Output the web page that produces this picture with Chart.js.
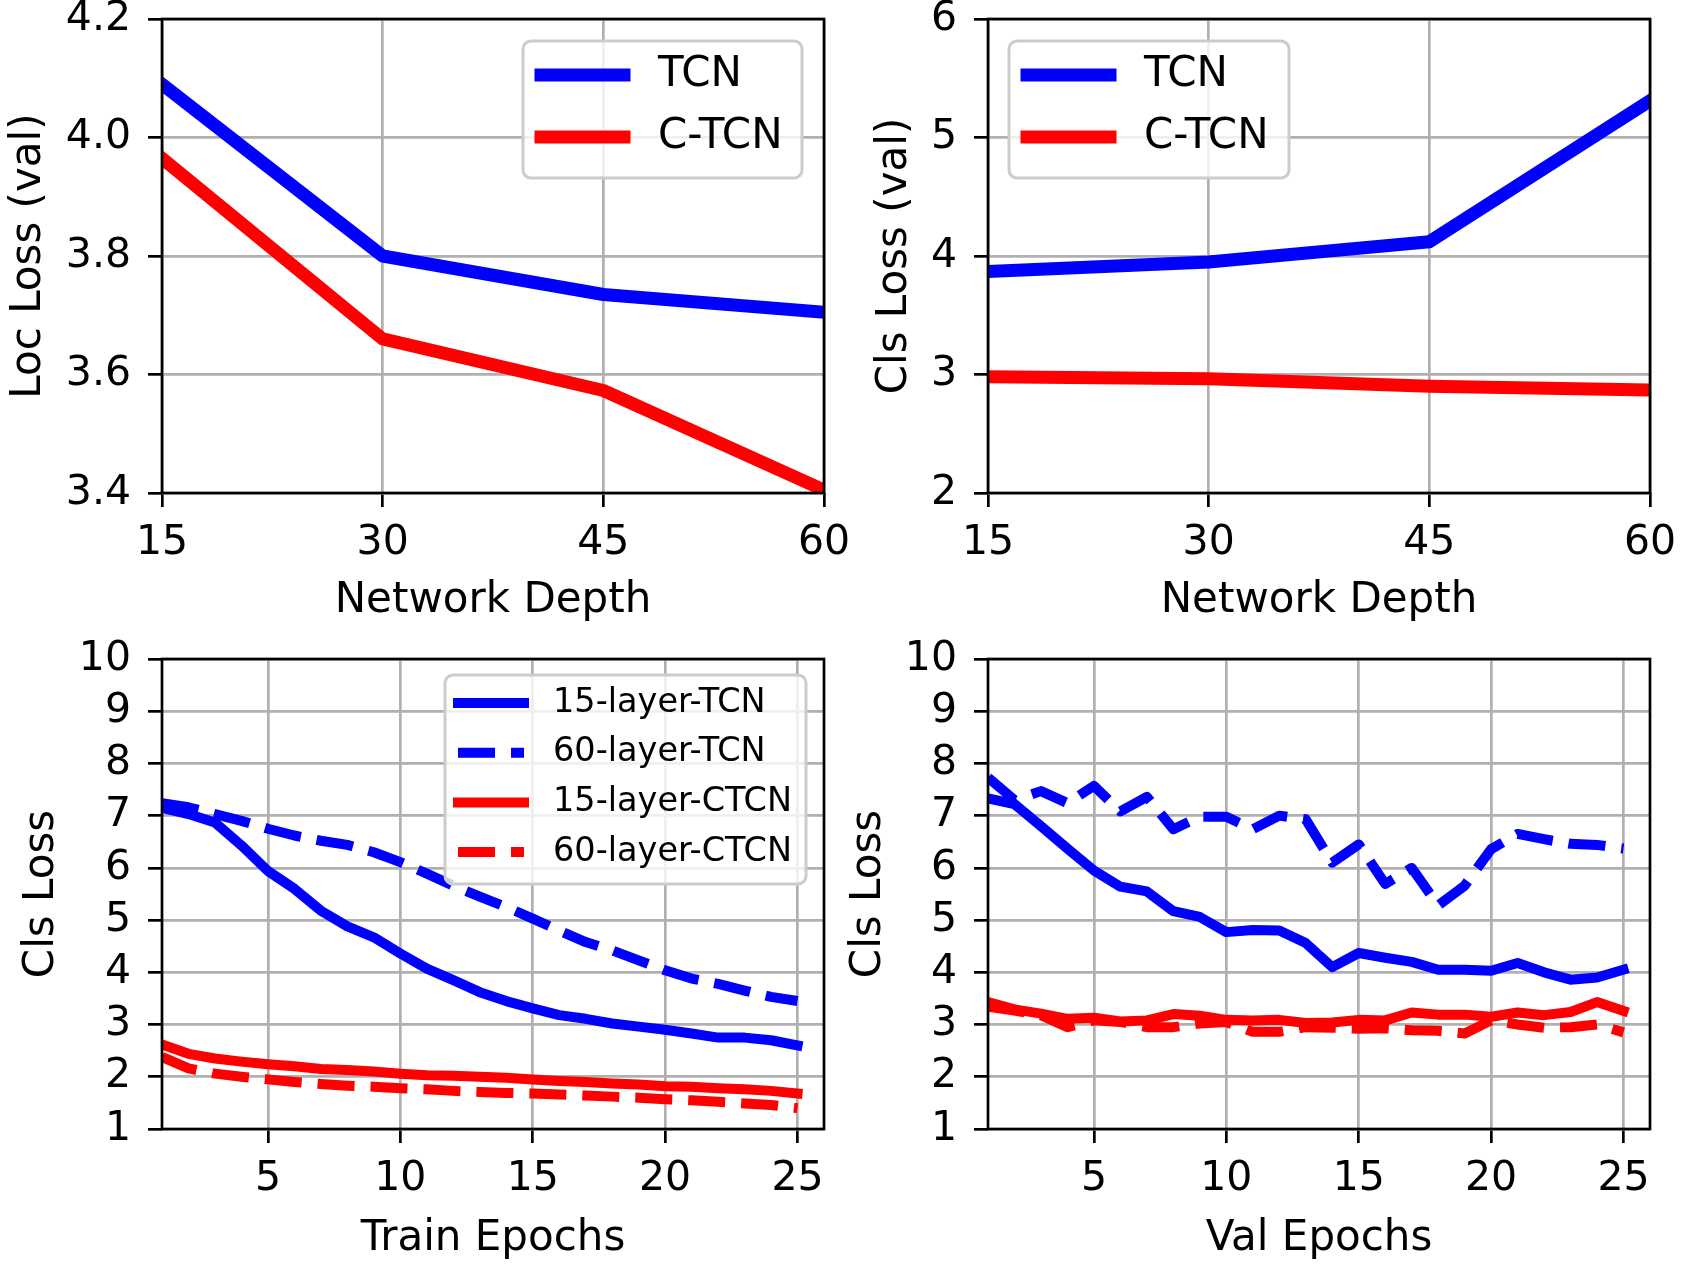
<!DOCTYPE html>
<html>
<head>
<meta charset="utf-8">
<title>TCN vs C-TCN losses</title>
<script src="https://cdn.jsdelivr.net/npm/chart.js@4.4.1/dist/chart.umd.min.js"></script>
<style>
    body { margin: 0; background: #fff; }
    #page { position: relative; width: 1681px; height: 1266px; background: #fff; }
    canvas { position: absolute; }
</style>
</head>
<body>
<div id="page">
    <canvas id="loc-depth" width="870" height="633" style="left:0;top:0"></canvas>
    <canvas id="cls-depth" width="841" height="633" style="left:840px;top:0"></canvas>
    <canvas id="cls-train" width="840" height="633" style="left:0;top:633px"></canvas>
    <canvas id="cls-val" width="841" height="633" style="left:840px;top:633px"></canvas>
</div>
<script>
// --- data ---
const depths = [15, 30, 45, 60];
const locLossTCN = [4.09, 3.80, 3.735, 3.705];
const locLossCTCN = [3.965, 3.66, 3.573, 3.405];
const clsLossTCN = [3.87, 3.95, 4.12, 5.31];
const clsLossCTCN = [2.98, 2.965, 2.90, 2.87];

const epochs = [1, 2, 3, 4, 5, 6, 7, 8, 9, 10, 11, 12, 13, 14, 15, 16, 17, 18, 19, 20, 21, 22, 23, 24, 25];
const trainTCN15 = [7.15, 7.03, 6.87, 6.43, 5.94, 5.60, 5.18, 4.88, 4.67, 4.36, 4.07, 3.85, 3.62, 3.45, 3.31, 3.18, 3.11, 3.02, 2.96, 2.90, 2.83, 2.75, 2.75, 2.70, 2.60];
const trainTCN60 = [7.24, 7.16, 7.03, 6.90, 6.75, 6.62, 6.52, 6.44, 6.30, 6.11, 5.89, 5.66, 5.45, 5.25, 5.03, 4.80, 4.58, 4.42, 4.23, 4.04, 3.88, 3.78, 3.65, 3.53, 3.45];
const trainCTCN15 = [2.62, 2.44, 2.35, 2.29, 2.24, 2.20, 2.15, 2.13, 2.10, 2.06, 2.03, 2.02, 2.00, 1.98, 1.95, 1.92, 1.90, 1.87, 1.85, 1.82, 1.81, 1.78, 1.76, 1.73, 1.68];
const trainCTCN60 = [2.38, 2.16, 2.06, 2.00, 1.95, 1.90, 1.86, 1.83, 1.81, 1.78, 1.76, 1.73, 1.71, 1.69, 1.68, 1.66, 1.64, 1.62, 1.60, 1.57, 1.55, 1.52, 1.49, 1.46, 1.40];
const valTCN15 = [7.33, 7.22, 6.80, 6.37, 5.95, 5.64, 5.55, 5.17, 5.06, 4.77, 4.81, 4.80, 4.56, 4.10, 4.37, 4.28, 4.20, 4.05, 4.05, 4.03, 4.18, 4.00, 3.86, 3.90, 4.05];
const valTCN60 = [7.73, 7.30, 7.47, 7.24, 7.57, 7.08, 7.36, 6.74, 6.98, 6.98, 6.74, 7.00, 6.93, 6.10, 6.45, 5.69, 6.00, 5.28, 5.66, 6.36, 6.65, 6.55, 6.46, 6.44, 6.37];
const valCTCN15 = [3.43, 3.29, 3.21, 3.11, 3.13, 3.06, 3.08, 3.20, 3.17, 3.09, 3.08, 3.09, 3.03, 3.04, 3.09, 3.08, 3.23, 3.19, 3.19, 3.15, 3.23, 3.18, 3.24, 3.43, 3.26];
const valCTCN60 = [3.34, 3.27, 3.18, 2.95, 3.08, 3.05, 2.95, 2.95, 3.02, 3.05, 2.86, 2.86, 2.95, 2.94, 2.92, 2.93, 2.89, 2.88, 2.83, 3.08, 3.00, 2.94, 2.95, 3.00, 2.85];

// --- tick labels ---
const depthTicks = [15, 30, 45, 60];
const epochTicks = [5, 10, 15, 20, 25];
const locTicks = [3.4, 3.6, 3.8, 4.0, 4.2];
const locTickLabels = ['3.4', '3.6', '3.8', '4.0', '4.2'];
const clsDepthTicks = [2, 3, 4, 5, 6];
const clsEpochTicks = [1, 2, 3, 4, 5, 6, 7, 8, 9, 10];

const BLUE = '#0000ff';
const RED = '#ff0000';
const FONT = 'DejaVu Sans';

Chart.defaults.font.family = FONT;
Chart.defaults.color = '#000';

// axes box drawn over the lines, like matplotlib spines
const frame = {
    id: 'frame',
    afterDatasetsDraw(chart) {
        const { ctx, chartArea: a } = chart;
        ctx.save();
        ctx.strokeStyle = '#000';
        ctx.lineWidth = 2.7;
        ctx.strokeRect(a.left, a.top, a.right - a.left, a.bottom - a.top);
        ctx.restore();
    }
};

// matplotlib style legend box inside the axes
const boxLegend = {
    id: 'boxLegend',
    afterDraw(chart, args, o) {
        const { ctx, chartArea: a } = chart;
        const x = a.left + o.left;
        const y = a.top + o.top;
        ctx.save();
        ctx.beginPath();
        ctx.roundRect(x, y, o.width, o.height, 8);
        ctx.fillStyle = 'rgba(255,255,255,0.8)';
        ctx.fill();
        ctx.strokeStyle = '#cccccc';
        ctx.lineWidth = 3;
        ctx.stroke();
        chart.data.datasets.forEach((ds, i) => {
            const ry = y + o.firstRow + i * o.rowStep;
            const dashed = ds.borderDash && ds.borderDash.length;
            ctx.beginPath();
            ctx.setLineDash(dashed ? ds.borderDash : []);
            ctx.lineCap = dashed ? 'butt' : 'square';
            ctx.strokeStyle = ds.borderColor;
            ctx.lineWidth = ds.borderWidth;
            ctx.moveTo(x + o.sampleX, ry);
            ctx.lineTo(x + o.sampleX + o.sampleLen, ry);
            ctx.stroke();
            ctx.setLineDash([]);
            ctx.fillStyle = '#000';
            ctx.font = o.fontSize + 'px "' + FONT + '"';
            ctx.textBaseline = 'middle';
            ctx.textAlign = 'left';
            ctx.fillText(ds.label, x + o.textX, ry);
        });
        ctx.restore();
    }
};

// no automatic room for overhanging tick labels: the plot box is placed by hand
function noPadding(s) {
    s.paddingTop = 0;
    s.paddingBottom = 0;
    s.paddingLeft = 0;
    s.paddingRight = 0;
}

function makeChart(id, cfg) {
    const n = cfg.series.length;
    const datasets = cfg.series.map((s, i) => ({
        label: s.label,
        data: cfg.x.map((x, j) => ({ x: x, y: s.values[j] })),
        borderColor: s.color,
        borderWidth: cfg.lineWidth,
        borderDash: s.dash || [],
        borderCapStyle: s.dash ? 'butt' : 'square',
        borderJoinStyle: 'round',
        pointRadius: 0,
        tension: 0,
        fill: false,
        order: n - i,
        clip: { left: 0, top: 0, right: 0, bottom: 0 }
    }));

    const grid = { color: '#b0b0b0', lineWidth: 2.7, tickLength: 14, tickColor: '#000', tickWidth: 2.7 };

    return new Chart(document.getElementById(id), {
        type: 'line',
        data: { datasets },
        plugins: [frame, boxLegend],
        options: {
            responsive: false,
            animation: false,
            events: [],
            layout: { autoPadding: false, padding: { left: 0, top: cfg.top, right: cfg.right, bottom: 0 } },
            plugins: {
                legend: { display: false },
                tooltip: { enabled: false },
                boxLegend: cfg.legend
            },
            scales: {
                x: {
                    type: 'linear',
                    min: cfg.xMin,
                    max: cfg.xMax,
                    afterBuildTicks: s => { s.ticks = cfg.xTicks.map(v => ({ value: v })); },
                    afterFit: s => { s.height = cfg.xAxisHeight; noPadding(s); },
                    ticks: { font: { size: 41 }, padding: cfg.xTickPad, maxRotation: 0, minRotation: 0, autoSkip: false,
                             callback: v => String(v) },
                    grid: grid,
                    border: { display: false },
                    title: { display: true, text: cfg.xTitle, font: { size: 42 }, padding: { top: 0, bottom: cfg.xTitlePad } }
                },
                y: {
                    type: 'linear',
                    min: cfg.yTicks[0],
                    max: cfg.yTicks[cfg.yTicks.length - 1],
                    afterBuildTicks: s => { s.ticks = cfg.yTicks.map(v => ({ value: v })); },
                    afterFit: s => { s.width = cfg.yAxisWidth; noPadding(s); },
                    ticks: { font: { size: 41 }, padding: 17, autoSkip: false,
                             callback: (v, i) => cfg.yLabels[i] },
                    grid: grid,
                    border: { display: false },
                    title: { display: true, text: cfg.yTitle, font: { size: 42 }, padding: { top: cfg.yTitlePad, bottom: 0 } }
                }
            }
        }
    });
}

const bigLegend = { top: 22, width: 279, height: 137, firstRow: 34, rowStep: 62, sampleX: 18, sampleLen: 83, textX: 135, fontSize: 42 };

makeChart('loc-depth', {
    x: depths, xMin: 15, xMax: 60, xTicks: depthTicks, xTitle: 'Network Depth',
    yTicks: locTicks, yLabels: locTickLabels, yTitle: 'Loc Loss (val)',
    top: 19, right: 46, yAxisWidth: 162, xAxisHeight: 140, xTickPad: 12, xTitlePad: 7, yTitlePad: 4,
    lineWidth: 13,
    series: [
        { label: 'TCN', values: locLossTCN, color: BLUE },
        { label: 'C-TCN', values: locLossCTCN, color: RED }
    ],
    legend: Object.assign({}, bigLegend, { left: 361 })
});

makeChart('cls-depth', {
    x: depths, xMin: 15, xMax: 60, xTicks: depthTicks, xTitle: 'Network Depth',
    yTicks: clsDepthTicks, yLabels: clsDepthTicks.map(String), yTitle: 'Cls Loss (val)',
    top: 19, right: 31, yAxisWidth: 148, xAxisHeight: 140, xTickPad: 12, xTitlePad: 7, yTitlePad: 30,
    lineWidth: 13,
    series: [
        { label: 'TCN', values: clsLossTCN, color: BLUE },
        { label: 'C-TCN', values: clsLossCTCN, color: RED }
    ],
    legend: Object.assign({}, bigLegend, { left: 21, width: 280 })
});

const epochSeries = (s15, s60, c15, c60) => [
    { label: '15-layer-TCN', values: s15, color: BLUE },
    { label: '60-layer-TCN', values: s60, color: BLUE, dash: [37, 16] },
    { label: '15-layer-CTCN', values: c15, color: RED },
    { label: '60-layer-CTCN', values: c60, color: RED, dash: [37, 16] }
];

makeChart('cls-train', {
    x: epochs, xMin: 1, xMax: 26, xTicks: epochTicks, xTitle: 'Train Epochs',
    yTicks: clsEpochTicks, yLabels: clsEpochTicks.map(String), yTitle: 'Cls Loss',
    top: 26, right: 16, yAxisWidth: 162, xAxisHeight: 137, xTickPad: 12, xTitlePad: 2, yTitlePad: 17,
    lineWidth: 10,
    series: epochSeries(trainTCN15, trainTCN60, trainCTCN15, trainCTCN60),
    legend: { left: 283, top: 16, width: 361, height: 209, firstRow: 28, rowStep: 49.7, sampleX: 13, sampleLen: 66, textX: 108, fontSize: 33.5 }
});

makeChart('cls-val', {
    x: epochs, xMin: 1, xMax: 26, xTicks: epochTicks, xTitle: 'Val Epochs',
    yTicks: clsEpochTicks, yLabels: clsEpochTicks.map(String), yTitle: 'Cls Loss',
    top: 26, right: 31, yAxisWidth: 148, xAxisHeight: 137, xTickPad: 12, xTitlePad: 2, yTitlePad: 4,
    lineWidth: 10,
    series: epochSeries(valTCN15, valTCN60, valCTCN15, valCTCN60),
    legend: null
});
</script>
</body>
</html>
